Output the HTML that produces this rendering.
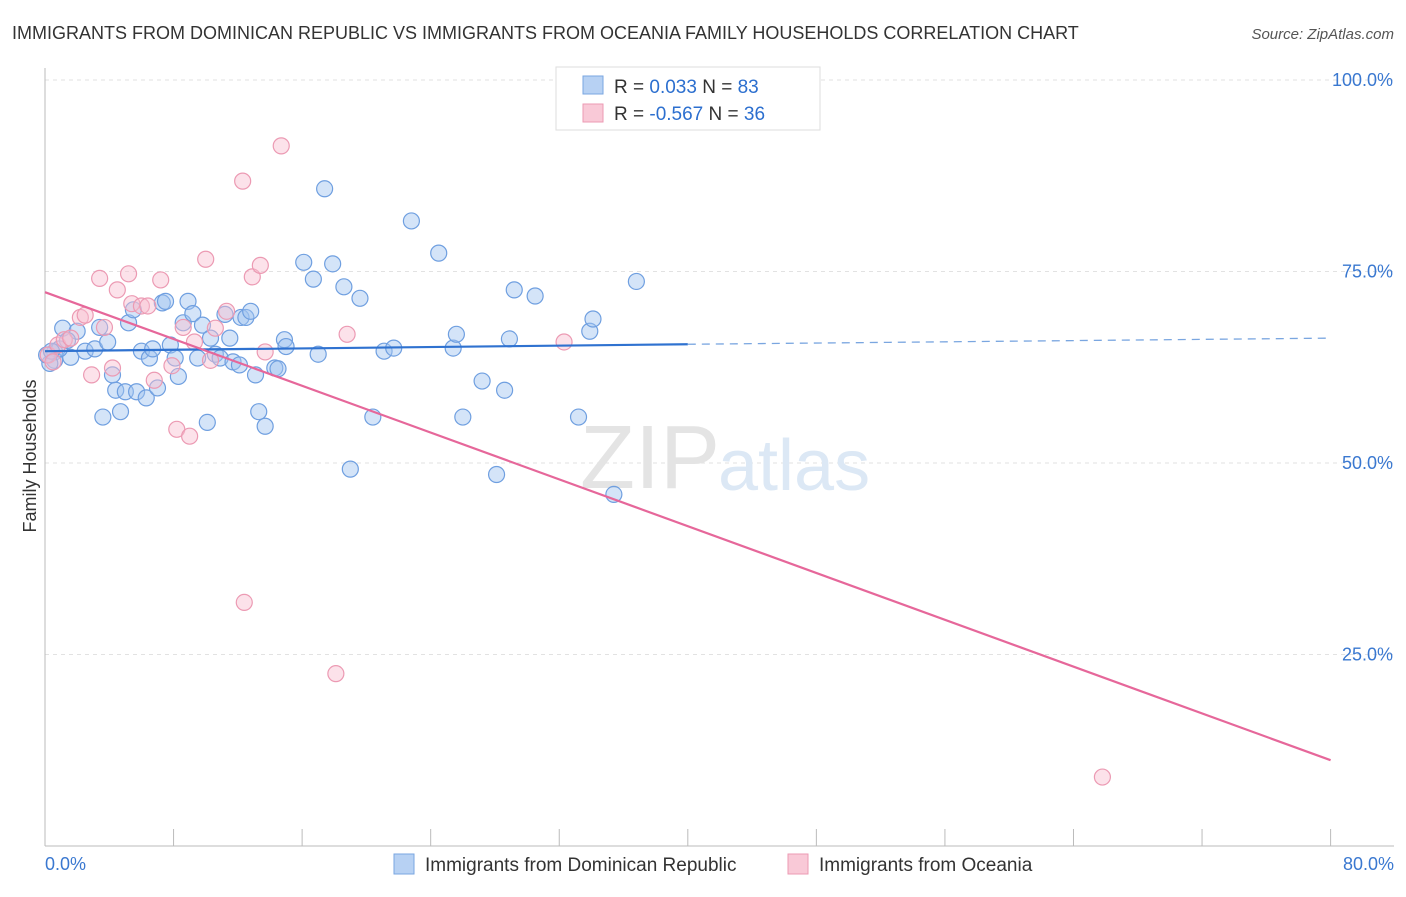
<!DOCTYPE html>
<html><head><meta charset="utf-8"><style>
body{margin:0;background:#fff;font-family:"Liberation Sans",sans-serif}
svg text{font-family:"Liberation Sans",sans-serif}
</style></head><body>
<svg width="1406" height="892" xmlns="http://www.w3.org/2000/svg">
<text x="12" y="39" font-size="18" fill="#333">IMMIGRANTS FROM DOMINICAN REPUBLIC VS IMMIGRANTS FROM OCEANIA FAMILY HOUSEHOLDS CORRELATION CHART</text>
<text x="1394" y="39" font-size="15" fill="#555" font-style="italic" text-anchor="end">Source: ZipAtlas.com</text>
<g id="grid"></g>
<text x="720" y="488" font-size="90" fill="#e4e4e4" text-anchor="end" font-family="Liberation Serif">ZIP</text>
<text x="718" y="490" font-size="72" fill="#dce8f5">atlas</text>
<g id="marks"></g>
<text x="36" y="456" font-size="18" fill="#333" transform="rotate(-90 36 456)" text-anchor="middle">Family Households</text>
<g>
<rect x="556" y="67" width="264" height="63" fill="#fff" stroke="#ddd"/>
<rect x="583" y="76" width="20" height="18" fill="#b7d1f3" stroke="#7aa6e0"/>
<rect x="583" y="104" width="20" height="18" fill="#f9c9d7" stroke="#ec9ab3"/>
<text x="614" y="93" font-size="19" fill="#333">R =  <tspan fill="#2c6fcf">0.033</tspan>   N = <tspan fill="#2c6fcf">83</tspan></text>
<text x="614" y="120" font-size="19" fill="#333">R = <tspan fill="#2c6fcf">-0.567</tspan>   N = <tspan fill="#2c6fcf">36</tspan></text>
</g>
<g>
<rect x="394" y="854" width="20" height="20" fill="#b7d1f3" stroke="#7aa6e0"/>
<text x="425" y="871" font-size="19" fill="#333">Immigrants from Dominican Republic</text>
<rect x="788" y="854" width="20" height="20" fill="#f9c9d7" stroke="#ec9ab3"/>
<text x="819" y="871" font-size="19" fill="#333">Immigrants from Oceania</text>
</g>
<text x="45" y="870" font-size="18" fill="#3a78d0">0.0%</text>
<text x="1394" y="870" font-size="18" fill="#3a78d0" text-anchor="end">80.0%</text>
</svg>
<script>
const yTicks=[100,75,50,25];
const yTickLabels=["100.0%","75.0%","50.0%","25.0%"];
const blueX=[0.6,1.1,1.6,2,2.5,3.1,3.4,3.6,3.9,4.2,4.4,4.7,5,5.2,5.5,5.7,6,6.3,6.5,6.7,7,7.3,7.5,7.8,8.1,8.3,8.6,8.9,9.2,9.5,9.8,10.1,10.3,10.6,10.9,11.2,11.5,11.7,12.1,12.2,12.5,12.8,13.1,13.3,13.7,14.3,14.5,14.9,15,16.1,16.7,17,17.4,17.9,18.6,19,19.6,20.4,21.1,21.7,22.8,24.5,25.4,25.6,26,27.2,28.1,28.6,28.9,29.2,30.5,33.2,33.9,34.1,35.4,36.8,0.6,0.3,0.9,0.1,0.4,1.4];
const blueY=[64.5,67.6,63.8,67.2,64.6,64.9,67.7,56,65.8,61.5,59.5,56.7,59.3,68.3,70,59.3,64.6,58.5,63.7,64.9,59.8,70.9,71.1,65.4,63.7,61.3,68.3,71.1,69.5,63.7,68,55.3,66.3,64.2,63.7,69.4,66.3,63.2,62.8,69,69,69.8,61.5,56.7,54.8,62.4,62.3,66.1,65.2,76.2,74,64.2,85.8,76,73,49.2,71.5,56,64.6,65,81.6,77.4,65,66.8,56,60.7,48.5,59.5,66.2,72.6,71.8,56,67.2,68.8,45.9,73.7,63.4,63,64.9,64.1,64.6,66];
const pinkX=[0.2,0.5,0.8,1.2,1.6,2.2,2.5,2.9,3.4,3.7,4.2,4.5,5.2,5.4,6,6.4,6.8,7.2,7.9,8.2,8.6,9,9.3,10,10.3,10.6,11.3,12.3,12.4,12.9,13.4,13.7,14.7,18.1,18.8,32.3,65.8];
const pinkY=[64.1,63.2,65.4,66.1,66.3,69,69.3,61.5,74.1,67.7,62.4,72.6,74.7,70.8,70.5,70.5,60.8,73.9,62.7,54.4,67.7,53.5,65.8,76.6,63.4,67.6,69.8,86.8,31.8,74.3,75.8,64.5,91.4,22.5,66.8,65.8,9
];
const X=v=>45+v*16.07, Y=v=>846-v*7.66;
const NS="http://www.w3.org/2000/svg";
const grid=document.getElementById('grid'), marks=document.getElementById('marks');
function mk(tag,attrs,parent){const e=document.createElementNS(NS,tag);for(const k in attrs)e.setAttribute(k,attrs[k]);parent.appendChild(e);return e;}
yTicks.forEach((t,i)=>{
 const l=mk('line',{x1:45,x2:1394,y1:Y(t),y2:Y(t),stroke:'#e2e2e2','stroke-dasharray':'4 4'},grid);
 
 
 const tx=mk('text',{x:1393,y:Y(t)+6,'font-size':18,fill:'#3a78d0','text-anchor':'end'},grid);
 tx.textContent=yTickLabels[i];
 
 
});
const ax=mk('line',{x1:45,x2:45,y1:68,y2:846,stroke:'#bbb'},grid);


const bx=mk('line',{x1:45,x2:1394,y1:846,y2:846,stroke:'#bbb'},grid);


for(let i=0;i<=10;i++){const t=mk('line',{x1:X(i*8),x2:X(i*8),y1:829,y2:846,stroke:'#bbb'},grid);
 
 }
blueX.forEach((v,i)=>{const c=mk('circle',{cx:X(v),cy:Y(blueY[i]),r:8,fill:'rgba(160,195,240,0.45)',stroke:'#6f9fe0','stroke-width':1.2},marks);
 
 });
pinkX.forEach((v,i)=>{const c=mk('circle',{cx:X(v),cy:Y(pinkY[i]),r:8,fill:'rgba(248,190,208,0.45)',stroke:'#ec9ab3','stroke-width':1.2},marks);
 
 });
const b1=mk('line',{x1:X(0),y1:Y(64.6),x2:X(40),y2:Y(65.5),stroke:'#2f72d0','stroke-width':2.2},marks);


const b2=mk('line',{x1:X(40),y1:Y(65.5),x2:X(80),y2:Y(66.3),stroke:'#7aa6e0','stroke-width':1.3,'stroke-dasharray':'8 6'},marks);


const p1=mk('line',{x1:X(0),y1:Y(72.3),x2:X(80),y2:Y(11.2),stroke:'#e6679a','stroke-width':2.2},marks);


</script>
</body></html>
